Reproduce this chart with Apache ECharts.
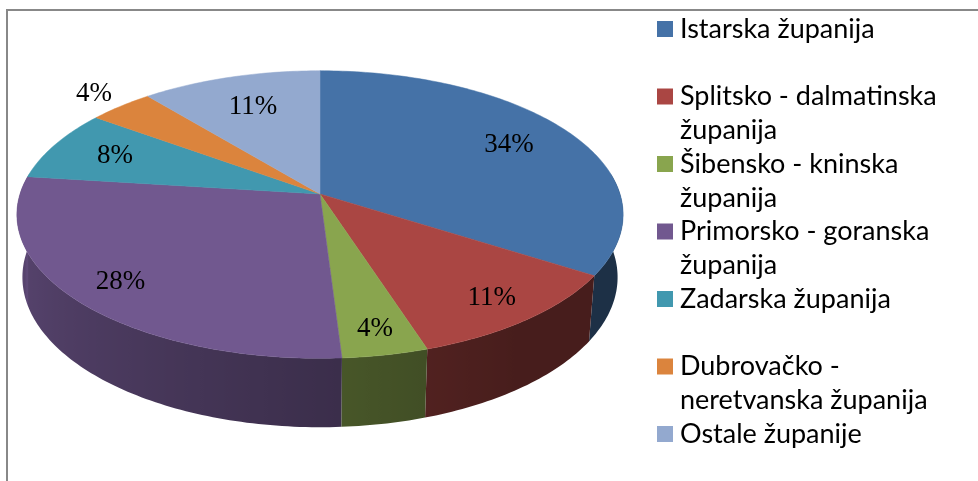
<!DOCTYPE html>
<html>
<head>
<meta charset="utf-8">
<title>Županije</title>
<script src="https://cdn.jsdelivr.net/npm/echarts@6/dist/echarts.min.js"></script>
<style>
  html, body { margin: 0; padding: 0; background: #fff; }
  #main { width: 978px; height: 481px; }
</style>
</head>
<body>
<div id="main"></div>
<script>
// podaci
const categories = ['Istarska županija', 'Splitsko - dalmatinska županija', 'Šibensko - kninska županija',
  'Primorsko - goranska županija', 'Zadarska županija', 'Dubrovačko - neretvanska županija', 'Ostale županije']
const shares = [34, 11, 4, 28, 8, 4, 11]
const colors = ['#4572A7', '#AA4643', '#89A54E', '#71588F', '#4198AF', '#DB843D', '#93A9CF']

const total = shares.reduce((a, b) => a + b, 0)

// perspektiva (kamera nagnuta prema dolje)
const CX = 320, CY = 194, F = 1854, D0 = 6.18
const TILT = 28 * Math.PI / 180
const S = Math.sin(TILT), C = Math.cos(TILT)
const DEPTH = 0.239
const DEG = Math.PI / 180

function project (x, z, h) {
  let v = z * S - h * C
  let w = D0 + z * C + h * S
  return [CX + F * x / w, CY - F * v / w]
}

function shade (hex, f) {
  let n = parseInt(hex.slice(1), 16)
  let r = Math.round(((n >> 16) & 255) * f)
  let g = Math.round(((n >> 8) & 255) * f)
  let b = Math.round((n & 255) * f)
  return 'rgb(' + r + ',' + g + ',' + b + ')'
}

// svjetlina zida ovisno o smjeru normale
function wallFactor (p) {
  let t = ((-p / DEG) % 360 + 360) % 360
  if (t > 300) return 0.42
  return Math.min(0.85, 0.42 + Math.max(0, t - 55) / 133 * 0.43)
}

function renderSlice (params, api) {
  let i = params.dataIndex
  let val = api.value(0)
  let before = 0
  for (let j = 0; j < i; j++) before += shares[j]
  let a0 = (90 - 360 * before / total) * DEG
  let a1 = a0 - 2 * Math.PI * val / total
  let color = colors[i]
  let children = []

  // gornja ploha
  let steps = Math.max(2, Math.ceil(Math.abs(a1 - a0) / DEG))
  let pts = [project(0, 0, 0)]
  for (let k = 0; k <= steps; k++) {
    let p = a0 + (a1 - a0) * k / steps
    pts.push(project(Math.cos(p), Math.sin(p), 0))
  }
  children.push({
    type: 'polygon',
    shape: { points: pts },
    style: { fill: color, stroke: color, lineWidth: 0.5 },
    z2: 100
  })

  // bočni zid (samo prednji dio)
  let hi = Math.min(a0, 0.15)
  let lo = Math.max(a1, -Math.PI - 0.15)
  if (lo < hi) {
    let n = Math.max(2, Math.ceil((hi - lo) / DEG))
    let topPts = [], botPts = [], samples = []
    for (let k = 0; k <= n; k++) {
      let p = hi - (hi - lo) * k / n
      let tp = project(Math.cos(p), Math.sin(p), 0)
      topPts.push(tp)
      botPts.push(project(Math.cos(p), Math.sin(p), DEPTH))
      samples.push({ x: tp[0], f: wallFactor(p) })
    }
    let xs = topPts.map(q => q[0]).concat(botPts.map(q => q[0]))
    let xmin = Math.min.apply(null, xs), xmax = Math.max.apply(null, xs)
    let stops = samples.map(s => ({
      offset: Math.max(0, Math.min(1, (s.x - xmin) / (xmax - xmin))),
      color: shade(color, s.f)
    })).sort((a, b) => a.offset - b.offset)
    let grad = new echarts.graphic.LinearGradient(xmin, 0, xmax, 0, stops, true)
    children.push({
      type: 'polygon',
      shape: { points: topPts.concat(botPts.reverse()) },
      style: { fill: grad },
      z2: 50 - Math.sin((hi + lo) / 2) * 40
    })
  }

  // oznaka postotka
  let mid = (a0 + a1) / 2
  let r = (val / total < 0.05 && Math.sin(mid) > 0) ? 1.15 : 0.79 - 0.07 * Math.sin(mid)
  let lp = project(r * Math.cos(mid), r * Math.sin(mid), 0)
  children.push({
    type: 'text',
    x: lp[0],
    y: lp[1],
    style: {
      text: val + '%',
      font: '27px "Liberation Serif", "Times New Roman", serif',
      fill: '#000',
      align: 'center',
      verticalAlign: 'middle'
    },
    z2: 200
  })

  return { type: 'group', children: children }
}

// legenda
const legendItems = []
categories.forEach(function (name, i) {
  let top = 12 + i * 67.5
  legendItems.push({
    type: 'rect',
    shape: { x: 657, y: top + 9, width: 16, height: 16 },
    style: { fill: colors[i] }
  })
  legendItems.push({
    type: 'text',
    x: 680,
    y: top,
    style: {
      text: name,
      font: '27px Lato, "Noto Sans", sans-serif',
      fill: '#000',
      width: 285,
      overflow: 'break',
      lineHeight: 34,
      verticalAlign: 'top'
    }
  })
})

let chart = echarts.init(document.getElementById('main'))
const option = {
  animation: false,
  graphic: [
    {
      type: 'rect',
      shape: { x: 7, y: 10, width: 1000, height: 500 },
      style: { fill: 'none', stroke: '#888888', lineWidth: 2 }
    }
  ].concat(legendItems),
  series: [
    {
      type: 'custom',
      coordinateSystem: 'none',
      data: shares,
      renderItem: renderSlice
    }
  ]
}
chart.setOption(option, true)
</script>
</body>
</html>
